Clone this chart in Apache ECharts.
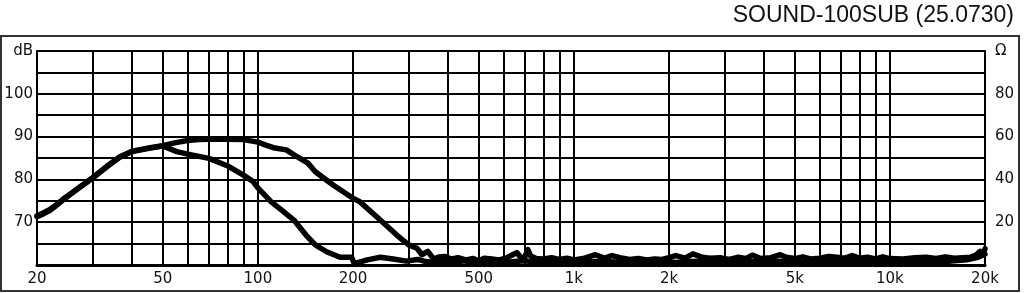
<!DOCTYPE html>
<html>
<head>
<meta charset="utf-8">
<script src="https://cdn.jsdelivr.net/npm/echarts@6/dist/echarts.min.js"></script>
<style>
html,body{margin:0;padding:0;background:#fff;}
#chart{width:1024px;height:293px;}
</style>
</head>
<body>
<div id="chart"></div>
<script>
// ---- data ----
var titleText = 'SOUND-100SUB (25.0730)';
var gridFreqs = [20,30,40,50,60,70,80,90,100,200,300,400,500,600,700,800,900,1000,2000,3000,4000,5000,6000,7000,8000,9000,10000,20000];
var labelFreqs = [20,50,100,200,500,1000,2000,5000,10000,20000];
var labelTexts = ['20','50','100','200','500','1k','2k','5k','10k','20k'];
var dbLabels = [70,80,90,100];
var ohmLabels = [20,40,60,80];

// curve 1 (upper, broad)
var freqA = [20,21,22,23,24.2,25.5,27.4,30,33.2,36.6,40,45.6,50,55,60,65,70,80,90,100,106,112,123,133,144,152,173,200,210,244,275,300,319,330,345,360,375,390,410,430,455,480,500,520,550,580,610,640,660,680,700,715,730,760,800,850,900,950,1000,1070,1170,1250,1320,1400,1500,1600,1700,1800,1900,2000,2100,2250,2380,2550,2700,2900,3100,3300,3500,3670,3900,4200,4500,4700,5000,5300,5600,6000,6400,6800,7200,7600,8000,8500,9000,9500,10000,11000,12000,13000,14000,15000,16000,17000,18000,18800,19300,19700,20000];
var dbA   = [71.5,72.2,73.0,74.0,75.4,76.6,78.3,80.4,83.0,85.3,86.6,87.4,87.9,88.6,89.1,89.3,89.4,89.4,89.3,88.7,88.0,87.4,86.9,85.3,83.8,81.8,78.7,75.6,74.8,70.5,67.0,64.7,63.9,62.4,63.2,61.4,61.9,62.0,61.4,61.7,61.2,61.5,61.0,61.6,61.4,61.2,61.6,62.4,62.9,61.7,61.9,63.6,62.1,61.5,61.4,61.7,61.3,61.6,61.2,61.5,62.4,61.6,62.2,61.7,61.3,61.5,61.2,61.4,61.3,61.7,62.2,61.6,62.6,61.8,61.6,61.7,61.3,61.8,61.5,62.3,61.5,61.7,62.4,61.8,61.5,61.9,61.4,61.6,62.0,61.8,61.6,62.2,61.6,61.8,61.4,61.9,61.5,61.4,61.7,61.8,61.5,61.9,61.6,61.7,61.8,62.4,63.2,62.3,63.8];

// curve 2 (lower, early roll-off)
var freqB = [20,21,22,23,24.2,25.5,27.4,30,33.2,36.6,40,45.6,50,55.4,60,70,80,90,96.6,100,110,120,130,142,152,165,182,198,202,222,244,268,295,320,340,365,390,420,450,480,510,540,570,600,650,700,750,800,870,950,1050,1150,1250,1400,1550,1700,1900,2100,2300,2600,2900,3200,3600,4000,4400,4800,5300,5800,6300,7000,7700,8500,9300,10000,11500,13000,14500,16000,17500,19000,20000];
var dbB   = [71.3,72.0,72.8,73.9,75.2,76.5,78.2,80.3,82.9,85.2,86.5,87.3,87.8,86.5,85.9,84.9,83.2,81.0,79.5,78.0,74.8,72.6,70.5,67.0,64.7,63.1,61.8,61.8,60.3,61.2,61.8,61.4,60.9,61.3,60.8,60.6,60.9,60.7,61.0,60.6,60.8,60.7,60.9,60.6,60.8,61.0,60.7,60.8,60.6,60.8,60.7,60.8,60.9,60.6,60.8,60.7,60.9,60.6,60.8,60.9,60.7,60.8,60.9,60.7,60.9,60.8,60.6,60.9,60.8,60.7,60.9,60.7,60.8,60.6,60.8,60.9,60.7,61.0,61.2,61.8,62.5];

// ---- chart ----
var L = function (f) { return Math.log10(f); };
function pairs(fs, vs) { return fs.map(function (f, i) { return [L(f), vs[i]]; }); }
var FONT = 'DejaVu Sans';

var chart = echarts.init(document.getElementById('chart'), null, {renderer: 'canvas'});
chart.setOption({
  animation: false,
  backgroundColor: '#fff',
  title: {
    text: titleText,
    right: 5, top: -1,
    textStyle: {fontFamily: 'Liberation Sans', fontSize: 23, fontWeight: 'normal', color: '#111'}
  },
  graphic: [{
    type: 'rect', silent: true, z: -1,
    shape: {x: 1, y: 36, width: 1018, height: 255},
    style: {fill: 'none', stroke: '#333', lineWidth: 2}
  }],
  grid: {left: 37, right: 39, top: 51, bottom: 28, containLabel: false},
  xAxis: {
    type: 'value', min: L(20), max: L(20000),
    axisLine: {show: true, lineStyle: {color: '#000', width: 3}},
    axisTick: {show: false, customValues: gridFreqs.map(L)},
    splitLine: {show: true, lineStyle: {color: '#000', width: 2}},
    axisLabel: {
      customValues: labelFreqs.map(L),
      margin: 7,
      fontFamily: FONT, fontSize: 15, color: '#111',
      formatter: function (v) {
        var f = Math.round(Math.pow(10, v));
        var i = labelFreqs.indexOf(f);
        return i >= 0 ? labelTexts[i] : '';
      }
    }
  },
  yAxis: [{
    type: 'value', min: 60, max: 110, interval: 5, position: 'left',
    axisLine: {show: true, lineStyle: {color: '#000', width: 2}},
    axisTick: {show: false},
    splitLine: {show: true, lineStyle: {color: '#000', width: 2}},
    axisLabel: {
      margin: 4, fontFamily: FONT, fontSize: 15, color: '#111',
      formatter: function (v) {
        if (v === 110) return 'dB';
        return dbLabels.indexOf(v) >= 0 ? String(v) : '';
      }
    }
  }, {
    type: 'value', min: 0, max: 100, interval: 10, position: 'right',
    axisLine: {show: true, lineStyle: {color: '#000', width: 2}},
    axisTick: {show: false},
    splitLine: {show: false},
    axisLabel: {
      margin: 10, fontFamily: FONT, fontSize: 15, color: '#111',
      formatter: function (v) {
        if (v === 100) return 'Ω';
        return ohmLabels.indexOf(v) >= 0 ? String(v) : '';
      }
    }
  }],
  series: [{
    type: 'line', yAxisIndex: 0, showSymbol: false, symbol: 'none',
    data: pairs(freqA, dbA),
    lineStyle: {color: '#000', width: 5.5, join: 'round', cap: 'round'}, z: 5
  }, {
    type: 'line', yAxisIndex: 0, showSymbol: false, symbol: 'none',
    data: pairs(freqB, dbB),
    lineStyle: {color: '#000', width: 5.5, join: 'round', cap: 'round'}, z: 5
  }]
});
</script>
</body>
</html>
